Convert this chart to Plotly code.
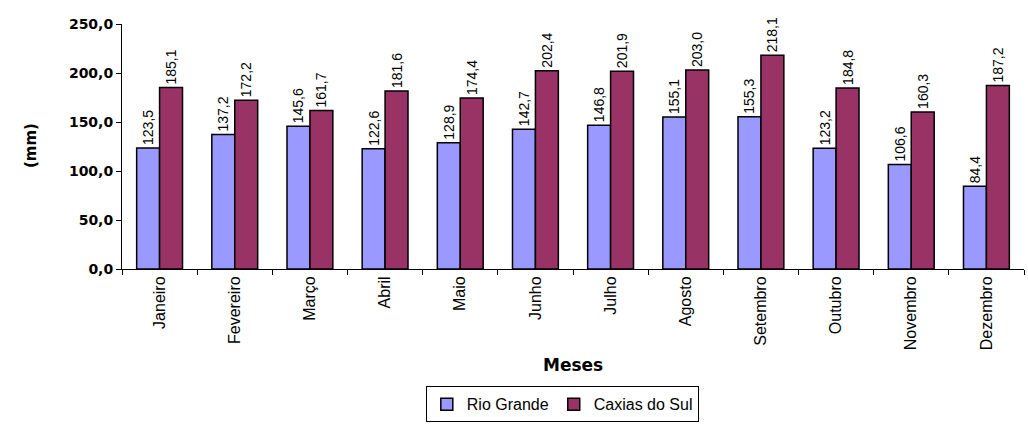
import plotly.graph_objects as go

meses = ["Janeiro", "Fevereiro", "Março", "Abril", "Maio", "Junho", "Julho",
         "Agosto", "Setembro", "Outubro", "Novembro", "Dezembro"]
rio_grande = [123.5, 137.2, 145.6, 122.6, 128.9, 142.7, 146.8, 155.1, 155.3, 123.2, 106.6, 84.4]
caxias = [185.1, 172.2, 161.7, 181.6, 174.4, 202.4, 201.9, 203.0, 218.1, 184.8, 160.3, 187.2]

def fmt(v):
    return f"{v:.1f}".replace(".", ",")

fig = go.Figure()
for name, vals, color in [("Rio Grande", rio_grande, "#9999FF"),
                          ("Caxias do Sul", caxias, "#993366")]:
    fig.add_trace(go.Bar(
        x=meses, y=vals, name=name,
        marker=dict(color=color, line=dict(color="black", width=1.5)),
        text=[fmt(v) for v in vals], textposition="outside", textangle=-90,
        constraintext="none",
        textfont=dict(family="Arial", size=14, color="black"),
        cliponaxis=False,
    ))

fig.update_layout(
    width=1028, height=424,
    margin=dict(l=122, r=4, t=24, b=155, autoexpand=False),
    paper_bgcolor="white", plot_bgcolor="white",
    barmode="group", bargap=0.39, bargroupgap=0,
    separators=",.",
    showlegend=True,
    legend=dict(orientation="h", xref="container", yref="container",
                x=0.547, xanchor="center", y=0.004, yanchor="bottom",
                bordercolor="black", borderwidth=1,
                font=dict(family="Arial", size=16, color="black"),
                itemwidth=30, traceorder="normal"),
    font=dict(family="Arial", color="black"),
)
fig.update_yaxes(range=[0, 250], dtick=50, tickformat=".1f", automargin=False,
                 showline=True, linecolor="black", linewidth=1,
                 ticks="outside", ticklen=5, tickcolor="black",
                 showgrid=False, zeroline=False,
                 tickfont=dict(family="DejaVu Sans", size=14, color="black", weight="bold"))
fig.update_xaxes(showline=True, linecolor="black", linewidth=1, automargin=False,
                 ticks="outside", ticklen=5, tickcolor="black", tickson="boundaries",
                 tickangle=-90, showgrid=False,
                 tickfont=dict(family="Arial", size=16, color="black"))

fig.add_annotation(text="<b>(mm)</b>", xref="paper", yref="paper", x=-0.113, y=0.502,
                   textangle=-90, showarrow=False,
                   font=dict(family="DejaVu Sans", size=15, color="black"))
fig.add_annotation(text="<b>Meses</b>", xref="paper", yref="paper", x=0.5, y=-0.392,
                   yanchor="middle", showarrow=False,
                   font=dict(family="DejaVu Sans", size=17, color="black"))

fig.write_html("out.html")
